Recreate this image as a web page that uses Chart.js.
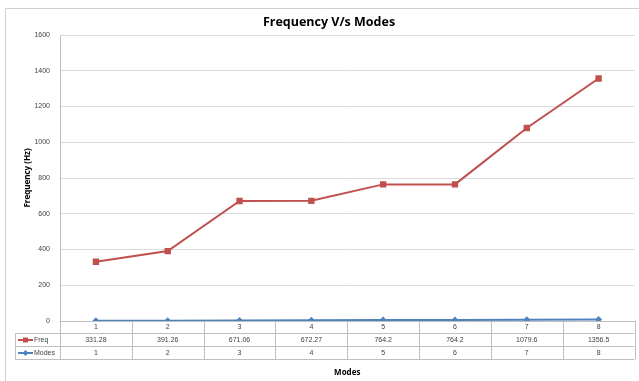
<!DOCTYPE html>
<html>
<head>
<meta charset="utf-8">
<script src="https://cdn.jsdelivr.net/npm/chart.js@4.4.0/dist/chart.umd.min.js"></script>
<style>
  html, body { margin: 0; padding: 0; background: #fff; }
  #wrap { width: 639px; height: 381px; position: relative; }
</style>
</head>
<body>
<div id="wrap"><canvas id="freqChart"></canvas></div>
<script>
const modes = ['1', '2', '3', '4', '5', '6', '7', '8'];
const freqValues = [331.28, 391.26, 671.06, 672.27, 764.2, 764.2, 1079.6, 1356.5];
const modeValues = [1, 2, 3, 4, 5, 6, 7, 8];
const freqLabels = ['331.28', '391.26', '671.06', '672.27', '764.2', '764.2', '1079.6', '1356.5'];
const modeLabels = ['1', '2', '3', '4', '5', '6', '7', '8'];

const RED = '#c0504d';
const BLUE = '#4f81bd';
const LINE = '#bfbfbf';

// data table under the x axis, like the Excel one
const dataTable = {
    id: 'dataTable',
    afterDraw(chart) {
        const ctx = chart.ctx;
        const x = chart.scales.x;
        const area = chart.chartArea;
        const rowH = 13;
        const top = area.bottom;
        const r1 = top + 12, r2 = r1 + rowH, r3 = r2 + rowH;
        const leftCol = 15;
        const step = x.getPixelForValue(1) - x.getPixelForValue(0);

        ctx.save();
        ctx.strokeStyle = LINE;
        ctx.lineWidth = 1;
        ctx.beginPath();
        // horizontal rows
        [r1, r2, r3].forEach(y => {
            ctx.moveTo(leftCol, y + 0.5);
            ctx.lineTo(area.right, y + 0.5);
        });
        // left column edges
        ctx.moveTo(leftCol + 0.5, r1);
        ctx.lineTo(leftCol + 0.5, r3);
        ctx.moveTo(area.left + 0.5, top);
        ctx.lineTo(area.left + 0.5, r3);
        // column boundaries
        modes.forEach((m, i) => {
            const bx = Math.round(x.getPixelForValue(i) + step / 2) + 0.5;
            ctx.moveTo(bx, top);
            ctx.lineTo(bx, r3);
        });
        ctx.stroke();

        ctx.font = '7px "Liberation Sans", Arial, sans-serif';
        ctx.fillStyle = '#404040';
        ctx.textAlign = 'center';
        ctx.textBaseline = 'middle';
        modes.forEach((m, i) => {
            const cx = x.getPixelForValue(i);
            ctx.fillText(freqLabels[i], cx, r1 + rowH / 2 + 0.5);
            ctx.fillText(modeLabels[i], cx, r2 + rowH / 2 + 0.5);
        });

        // legend keys in the first column
        const keys = [
            { y: r1 + rowH / 2 + 0.5, color: RED, name: 'Freq', shape: 'rect' },
            { y: r2 + rowH / 2 + 0.5, color: BLUE, name: 'Modes', shape: 'diamond' }
        ];
        keys.forEach(k => {
            ctx.strokeStyle = k.color;
            ctx.lineWidth = 2;
            ctx.beginPath();
            ctx.moveTo(18, k.y);
            ctx.lineTo(33, k.y);
            ctx.stroke();
            ctx.fillStyle = k.color;
            ctx.beginPath();
            if (k.shape === 'rect') {
                ctx.rect(23, k.y - 2.5, 5, 5);
            } else {
                ctx.moveTo(25.5, k.y - 3);
                ctx.lineTo(28.5, k.y);
                ctx.lineTo(25.5, k.y + 3);
                ctx.lineTo(22.5, k.y);
                ctx.closePath();
            }
            ctx.fill();
            ctx.fillStyle = '#404040';
            ctx.textAlign = 'left';
            ctx.fillText(k.name, 34, k.y);
        });

        // outer frame
        ctx.strokeStyle = '#d0d0d0';
        ctx.lineWidth = 1;
        ctx.beginPath();
        ctx.moveTo(5.5, chart.height);
        ctx.lineTo(5.5, 8.5);
        ctx.lineTo(chart.width, 8.5);
        ctx.stroke();
        ctx.restore();
    }
};

new Chart(document.getElementById('freqChart'), {
    type: 'line',
    data: {
        labels: modes,
        datasets: [
            {
                label: 'Freq',
                data: freqValues,
                borderColor: RED,
                backgroundColor: RED,
                borderWidth: 2,
                pointStyle: 'rect',
                pointRadius: 4.5,
                pointBorderWidth: 0,
                tension: 0
            },
            {
                label: 'Modes',
                data: modeValues,
                borderColor: BLUE,
                backgroundColor: BLUE,
                borderWidth: 2,
                pointStyle: 'rectRot',
                pointRadius: 3.5,
                pointBorderWidth: 0,
                tension: 0
            }
        ]
    },
    options: {
        responsive: true,
        maintainAspectRatio: false,
        animation: false,
        layout: { padding: { left: 22, right: 3, top: 0, bottom: 2 } },
        plugins: {
            legend: { display: false },
            tooltip: { enabled: false },
            title: {
                display: true,
                text: 'Frequency V/s Modes',
                color: '#000',
                font: { family: '"Open Sans", "Liberation Sans", sans-serif', size: 12.5, weight: 'bold' },
                padding: { top: 15, bottom: 5 }
            }
        },
        scales: {
            x: {
                offset: true,
                grid: { display: false, drawTicks: false },
                border: { color: LINE },
                ticks: {
                    color: '#404040',
                    padding: 2,
                    font: { family: '"Liberation Sans", Arial, sans-serif', size: 7 }
                },
                title: {
                    display: true,
                    text: 'Modes',
                    color: '#000',
                    font: { family: '"Open Sans", "Liberation Sans", sans-serif', size: 8, weight: 'bold' },
                    padding: { top: 0, bottom: 1 }
                },
                afterFit(scale) { scale.height = 58; }
            },
            y: {
                min: 0,
                max: 1600,
                grid: { color: '#d9d9d9', drawTicks: false },
                border: { color: LINE },
                ticks: {
                    stepSize: 200,
                    color: '#404040',
                    padding: 10,
                    font: { family: '"Liberation Sans", Arial, sans-serif', size: 7 },
                    callback: function(value) {
                        return String(value);
                    }
                },
                title: {
                    display: true,
                    text: 'Frequency (Hz)',
                    color: '#000',
                    font: { family: '"Open Sans", "Liberation Sans", sans-serif', size: 8, weight: 'bold' },
                    padding: { top: 1, bottom: 0 }
                },
                afterFit(scale) { scale.width = 38; }
            }
        }
    },
    plugins: [dataTable]
});
</script>
</body>
</html>
